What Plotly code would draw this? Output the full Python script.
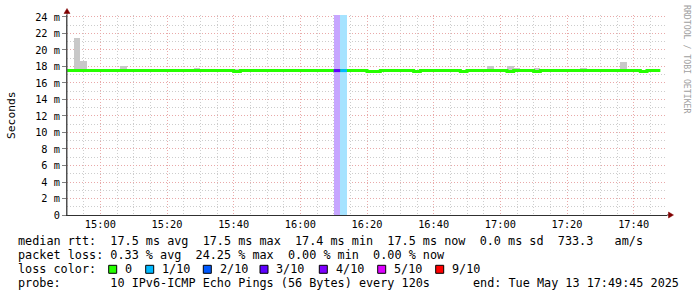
import plotly.graph_objects as go
import pandas as pd

# ---------------- data ----------------
start_time = "2025-05-13 14:50:00"
step_minutes = 2

median_ms = [
    17.5, 17.5, 17.5, 17.5, 17.5, 17.5, 17.5, 17.5, 17.5, 17.5,
    17.5, 17.5, 17.5, 17.5, 17.5, 17.5, 17.5, 17.5, 17.5, 17.5,
    17.5, 17.5, 17.5, 17.5, 17.5, 17.4, 17.5, 17.5, 17.5, 17.5,
    17.5, 17.5, 17.5, 17.5, 17.5, 17.5, 17.5, 17.5, 17.5, 17.5,
    17.5, 17.5, 17.5, 17.5, 17.5, 17.4, 17.4, 17.5, 17.5, 17.5,
    17.5, 17.5, 17.4, 17.5, 17.5, 17.5, 17.5, 17.5, 17.5, 17.4,
    17.5, 17.5, 17.5, 17.5, 17.5, 17.5, 17.4, 17.5, 17.5, 17.5,
    17.4, 17.5, 17.5, 17.5, 17.5, 17.5, 17.5, 17.5, 17.5, 17.5,
    17.5, 17.5, 17.5, 17.5, 17.5, 17.5, 17.4, 17.5, 17.5,
]

smoke_max_ms = [
    17.6, 21.5, 18.67, 17.7, 17.6, 17.6, 17.6, 17.6, 18.06, 17.7,
    17.6, 17.7, 17.6, 17.7, 17.6, 17.6, 17.6, 17.6, 17.6, 17.8,
    17.7, 17.6, 17.6, 17.6, 17.6, 17.7, 17.6, 17.6, 17.6, 17.6,
    17.6, 17.6, 17.6, 17.6, 17.6, 17.6, 17.6, 17.6, 17.6, 17.6,
    17.6, 17.6, 17.6, 17.6, 17.6, 17.6, 17.6, 17.6, 17.6, 17.6,
    17.6, 17.6, 17.6, 17.6, 17.6, 17.6, 17.7, 17.6, 17.6, 17.6,
    17.6, 17.6, 17.6, 18.06, 17.7, 17.6, 18.06, 17.8, 17.7, 17.6,
    17.8, 17.6, 17.6, 17.6, 17.6, 17.6, 17.6, 17.8, 17.6, 17.6,
    17.6, 17.6, 17.6, 18.55, 17.7, 17.7, 17.6, 17.6, 17.6,
]
smoke_min_ms = 17.35

loss_tenths = [
    0, 0, 0, 0, 0, 0, 0, 0, 0, 0,
    0, 0, 0, 0, 0, 0, 0, 0, 0, 0,
    0, 0, 0, 0, 0, 0, 0, 0, 0, 0,
    0, 0, 0, 0, 0, 0, 0, 0, 0, 0,
    3, 1, 0, 0, 0, 0, 0, 0, 0, 0,
    0, 0, 0, 0, 0, 0, 0, 0, 0, 0,
    0, 0, 0, 0, 0, 0, 0, 0, 0, 0,
    0, 0, 0, 0, 0, 0, 0, 0, 0, 0,
    0, 0, 0, 0, 0, 0, 0, 0, 0,
]

loss_levels = [0, 1, 2, 3, 4, 5, 9]
loss_labels = ["0", "1/10", "2/10", "3/10", "4/10", "5/10", "9/10"]
loss_colors = ["#26ff00", "#00b8ff", "#0059ff", "#5e00ff", "#7e00ff", "#dd00ff", "#ff0000"]
loss_band_colors = ["#c6ffb3", "#a6e3ff", "#a6c5ff", "#c7a6ff", "#d2a6ff", "#f1a6ff", "#ffa6a6"]

y_tick_vals = [0, 2, 4, 6, 8, 10, 12, 14, 16, 18, 20, 22, 24]
y_tick_text = ["0", "2 m", "4 m", "6 m", "8 m", "10 m", "12 m", "14 m", "16 m",
               "18 m", "20 m", "22 m", "24 m"]
y_max = 24.24

line_rtt = "median rtt:  17.5 ms avg  17.5 ms max  17.4 ms min  17.5 ms now  0.0 ms sd  733.3   am/s"
line_loss = "packet loss: 0.33 % avg  24.25 % max  0.00 % min  0.00 % now"
line_color_title = "loss color:"
line_probe = "probe:       10 IPv6-ICMP Echo Pings (56 Bytes) every 120s"
line_end = "end: Tue May 13 17:49:45 2025"
watermark = "RRDTOOL / TOBI OETIKER"
y_title = "Seconds"

# ---------------- derived ----------------
t0 = pd.Timestamp(start_time)
n = len(median_ms)
times = [t0 + pd.Timedelta(minutes=step_minutes * i) for i in range(n)]
t_end_data = t0 + pd.Timedelta(minutes=step_minutes * n)
x_range = [t0, t0 + pd.Timedelta(hours=3)]
step_ms = step_minutes * 60 * 1000

# ---------------- geometry helpers (pixels -> paper) ----------------
W, H = 697, 297
PL, PR, PT, PB = 67, 667, 15, 215


def px(x):
    return (x - PL) / (PR - PL)


def py(y):
    return (PB - y) / (PB - PT)


MONO = "DejaVu Sans Mono"
fig = go.Figure()

# loss bands
band_x, band_y, band_c = [], [], []
for t, l in zip(times, loss_tenths):
    if l > 0:
        band_x.append(t)
        band_y.append(y_max)
        band_c.append(loss_band_colors[loss_levels.index(l)])
fig.add_trace(go.Bar(x=band_x, y=band_y, width=step_ms, offset=0,
                     marker=dict(color=band_c, line=dict(width=0)),
                     hoverinfo="skip", showlegend=False))

# smoke
fig.add_trace(go.Bar(x=times, y=[m - smoke_min_ms for m in smoke_max_ms],
                     base=smoke_min_ms, width=step_ms, offset=0,
                     marker=dict(color="#c8c8c8", line=dict(width=0)),
                     hoverinfo="skip", showlegend=False))

# median line (green)
fig.add_trace(go.Scatter(x=times + [t_end_data], y=median_ms + [median_ms[-1]],
                         mode="lines", line=dict(color=loss_colors[0], width=3, shape="hv"),
                         hoverinfo="skip", showlegend=False))

# median segments coloured by loss
for i, (t, m, l) in enumerate(zip(times, median_ms, loss_tenths)):
    if l > 0:
        fig.add_trace(go.Scatter(x=[t, t + pd.Timedelta(minutes=step_minutes)], y=[m, m],
                                 mode="lines",
                                 line=dict(color=loss_colors[loss_levels.index(l)], width=3),
                                 hoverinfo="skip", showlegend=False))

MAJOR_GRID = "#e9a9a9"
MINOR_GRID = "#cdcdcd"

fig.update_layout(
    width=W, height=H,
    margin=dict(l=PL, r=W - PR, t=PT, b=H - PB),
    paper_bgcolor="white", plot_bgcolor="white",
    barmode="overlay", bargap=0,
    xaxis=dict(
        type="date", range=x_range,
        tick0="2025-05-13 15:00:00", dtick=20 * 60 * 1000, tickformat="%H:%M",
        showgrid=True, gridcolor=MAJOR_GRID, griddash="1px,2px", gridwidth=1,
        minor=dict(dtick=5 * 60 * 1000, showgrid=True, gridcolor=MINOR_GRID,
                   griddash="1px,2px", gridwidth=1),
        showline=True, linecolor="#303030", linewidth=1,
        zeroline=False, ticks="",
        tickfont=dict(family=MONO, size=10.3, color="black"),
    ),
    yaxis=dict(
        range=[0, y_max], tickmode="array", tickvals=y_tick_vals, ticktext=y_tick_text,
        showgrid=True, gridcolor=MAJOR_GRID, griddash="1px,2px", gridwidth=1,
        minor=dict(dtick=1, showgrid=True, gridcolor=MINOR_GRID,
                   griddash="1px,2px", gridwidth=1),
        showline=True, linecolor="#505050", linewidth=1,
        zeroline=False, ticks="outside", ticklen=4, tickcolor="#808080",
        tickfont=dict(family=MONO, size=10.3, color="black"),
    ),
)

ann = []


def text(x, y, s, size=11.8, anchor="left", color="black", angle=0, yanchor="middle"):
    ann.append(dict(x=px(x), y=py(y), xref="paper", yref="paper", text=s,
                    showarrow=False, xanchor=anchor, yanchor=yanchor, textangle=angle,
                    font=dict(family=MONO, size=size, color=color)))


text(15.5, 241, line_rtt.replace(" ", "&nbsp;"))
text(15.5, 255, line_loss.replace(" ", "&nbsp;"))
text(15.5, 269, line_color_title.replace(" ", "&nbsp;"))
text(15.5, 283, line_probe.replace(" ", "&nbsp;"))
text(680.5, 283, line_end.replace(" ", "&nbsp;"), anchor="right")
text(11, 115, y_title, size=11.3, angle=-90, anchor="center")
text(687, 59, watermark.replace(" ", "&nbsp;"), size=8.2, color="#a0a0a0", angle=90, anchor="center")

shapes = []
square_x = [108.7, 145.7, 203.3, 260.0, 319.3, 377.7, 435.7]
label_x = [122.5, 159.5, 217.5, 273.5, 333.5, 391.8, 449.5]
for sx, lx, c, lab in zip(square_x, label_x, loss_colors, loss_labels):
    shapes.append(dict(type="rect", xref="paper", yref="paper",
                       x0=px(sx), x1=px(sx + 8), y0=py(273.3), y1=py(265.3),
                       fillcolor=c, line=dict(color="black", width=1)))
    text(lx, 269, lab)

# axis extensions and arrows
AX = "#800000"
shapes.append(dict(type="line", xref="paper", yref="paper", x0=px(67), x1=px(67),
                   y0=py(215), y1=py(12), line=dict(color="#505050", width=1)))
shapes.append(dict(type="path", xref="paper", yref="paper",
                   path=f"M {px(64)} {py(13.5)} L {px(70)} {py(13.5)} L {px(67)} {py(8.5)} Z",
                   fillcolor=AX, line=dict(color=AX, width=0.5)))
shapes.append(dict(type="line", xref="paper", yref="paper", x0=px(667), x1=px(669),
                   y0=py(215), y1=py(215), line=dict(color="#303030", width=1)))
shapes.append(dict(type="path", xref="paper", yref="paper",
                   path=f"M {px(668.5)} {py(212)} L {px(668.5)} {py(218)} L {px(673.5)} {py(215)} Z",
                   fillcolor=AX, line=dict(color=AX, width=0.5)))

fig.update_layout(annotations=ann, shapes=shapes)
fig.write_html("out.html")
